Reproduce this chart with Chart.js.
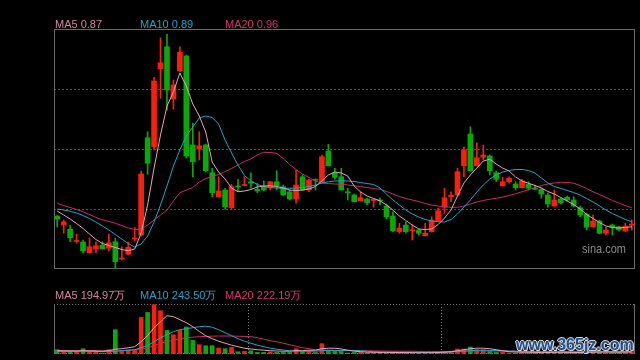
<!DOCTYPE html>
<html><head><meta charset="utf-8">
<script src="https://cdn.jsdelivr.net/npm/chart.js@4/dist/chart.umd.min.js"></script>
<style>
html,body{margin:0;padding:0;background:#000;}
#wrap{position:relative;width:640px;height:360px;overflow:hidden;background:#000;font-family:"Liberation Sans",Arial,sans-serif;}
canvas{position:absolute;left:0;top:0;}
.lg{position:absolute;font-size:11px;line-height:11px;white-space:nowrap;}
#sina{position:absolute;left:582px;top:244px;font-size:11px;line-height:11px;color:#8a8a8a;transform:scaleY(1.12);transform-origin:0 100%;}
#wm{position:absolute;left:516px;top:337px;font-size:16px;line-height:16px;font-weight:bold;color:#1f4f8f;
 text-shadow:1px 0 0 #d8d8d8,-1px 0 0 #d8d8d8,0 1px 0 #d8d8d8,0 -1px 0 #d8d8d8,1px 1px 0 #bbb;}
</style></head><body>
<div id="wrap">
<canvas id="k" width="640" height="360"></canvas>
<canvas id="v" width="640" height="360"></canvas>
<div id="sina">sina.com</div>
<div id="wm">www.365jz.com</div>
</div>
<script>
// ---- data ----
const categories = Array.from({length: 90}, (_, i) => String(i + 1));
const opens = [0.912,0.876,0.859,0.810,0.808,0.765,0.780,0.795,0.783,0.809,
0.740,0.759,0.820,0.836,1.225,1.189,1.501,1.589,1.380,1.493,
1.552,1.196,1.180,1.196,1.085,0.989,1.016,0.945,1.032,1.034,
1.049,1.019,1.029,1.025,1.049,1.029,1.009,0.980,1.069,1.016,
1.059,1.049,1.172,1.085,1.069,1.009,0.996,0.973,0.980,0.974,
0.976,0.952,0.912,0.849,0.876,0.853,0.856,0.833,0.849,0.893,
0.947,0.989,0.996,1.113,1.240,1.113,1.147,1.152,1.085,1.033,
1.049,1.040,1.025,1.039,1.023,1.019,0.996,0.952,0.980,0.987,
0.976,0.945,0.919,0.869,0.892,0.843,0.876,0.869,0.852,0.875];
const closes = [0.900,0.889,0.825,0.814,0.773,0.789,0.793,0.781,0.805,0.729,
0.744,0.787,0.824,1.080,1.123,1.452,1.525,1.416,1.436,1.567,
1.152,1.129,1.193,1.093,1.005,1.012,0.949,1.029,1.028,1.036,
1.043,1.012,1.016,1.049,1.032,0.996,0.980,1.036,1.016,1.056,
1.055,1.149,1.113,1.067,1.016,1.005,0.969,0.985,0.965,0.977,
0.972,0.909,0.853,0.863,0.849,0.856,0.843,0.843,0.896,0.933,
0.985,0.995,1.089,1.176,1.093,1.145,1.156,1.093,1.059,1.049,
1.063,1.025,1.052,1.023,1.019,1.000,0.960,0.976,0.965,0.976,
0.952,0.916,0.867,0.892,0.843,0.856,0.867,0.856,0.872,0.880];
const highs = [0.914,0.896,0.876,0.840,0.816,0.824,0.809,0.809,0.840,0.823,
0.789,0.808,0.867,1.092,1.249,1.467,1.625,1.640,1.456,1.589,
1.556,1.283,1.249,1.200,1.103,1.069,1.023,1.039,1.059,1.069,
1.085,1.043,1.052,1.050,1.093,1.036,1.016,1.096,1.076,1.060,
1.060,1.156,1.199,1.103,1.103,1.023,1.000,1.009,0.984,0.983,
0.984,0.960,0.929,0.883,0.888,0.876,0.860,0.883,0.909,0.944,
1.023,1.009,1.103,1.189,1.269,1.205,1.196,1.156,1.092,1.067,
1.069,1.049,1.059,1.049,1.036,1.024,1.004,1.016,0.984,0.992,
0.989,0.952,0.924,0.916,0.896,0.867,0.880,0.872,0.883,0.896];
const lows = [0.868,0.844,0.809,0.804,0.765,0.764,0.765,0.780,0.773,0.703,
0.736,0.756,0.813,0.832,1.079,1.176,1.383,1.336,1.339,1.488,
1.144,1.069,1.136,1.088,0.989,0.988,0.939,0.939,1.009,1.033,
1.023,1.005,1.012,1.016,1.016,0.994,0.976,0.963,1.014,1.009,
1.016,1.048,1.112,1.059,1.016,0.976,0.968,0.972,0.956,0.947,
0.956,0.900,0.849,0.843,0.844,0.816,0.836,0.832,0.848,0.889,
0.923,0.969,0.992,1.069,1.092,1.112,1.136,1.076,1.049,1.032,
1.043,1.016,1.024,1.016,1.016,0.983,0.947,0.950,0.960,0.972,
0.948,0.909,0.856,0.868,0.840,0.836,0.836,0.852,0.850,0.856];
const ma5 = [0.932,0.916,0.900,0.882,0.862,0.840,0.818,0.802,0.794,0.786,
0.778,0.773,0.780,0.844,0.956,1.104,1.236,1.352,1.408,1.484,
1.432,1.360,1.312,1.248,1.128,1.088,1.060,1.024,1.009,1.012,
1.018,1.028,1.032,1.033,1.030,1.024,1.016,1.014,1.016,1.020,
1.030,1.052,1.076,1.088,1.084,1.072,1.032,1.008,0.992,0.982,
0.973,0.956,0.936,0.912,0.894,0.876,0.860,0.858,0.860,0.878,
0.904,0.936,0.992,1.044,1.076,1.104,1.132,1.139,1.120,1.104,
1.092,1.068,1.052,1.043,1.034,1.024,1.010,1.000,0.986,0.972,
0.958,0.940,0.918,0.902,0.886,0.872,0.866,0.864,0.866,0.869];
const ma10 = [0.940,0.936,0.931,0.924,0.914,0.902,0.888,0.872,0.856,0.838,
0.820,0.802,0.788,0.800,0.832,0.888,0.956,1.032,1.112,1.176,
1.232,1.268,1.304,1.312,1.306,1.280,1.216,1.164,1.116,1.074,
1.052,1.038,1.030,1.026,1.024,1.023,1.023,1.024,1.026,1.030,
1.036,1.044,1.049,1.052,1.053,1.052,1.050,1.046,1.042,1.038,
1.024,1.000,0.976,0.956,0.936,0.920,0.908,0.898,0.892,0.889,
0.888,0.898,0.920,0.948,0.976,1.008,1.036,1.060,1.076,1.088,
1.094,1.098,1.098,1.094,1.084,1.064,1.044,1.030,1.022,1.014,
1.006,0.996,0.982,0.968,0.952,0.936,0.922,0.910,0.898,0.889];
const ma20 = [0.963,0.954,0.946,0.938,0.929,0.918,0.906,0.897,0.890,0.883,
0.874,0.864,0.858,0.860,0.876,0.896,0.916,0.936,0.972,1.005,
1.016,1.026,1.048,1.062,1.070,1.078,1.090,1.102,1.116,1.130,
1.140,1.156,1.167,1.166,1.163,1.142,1.118,1.098,1.080,1.066,
1.052,1.043,1.042,1.040,1.039,1.036,1.033,1.030,1.026,1.022,
1.019,1.010,1.000,0.990,0.982,0.976,0.970,0.962,0.956,0.952,
0.949,0.947,0.947,0.952,0.960,0.968,0.974,0.979,0.983,0.988,
0.994,1.001,1.009,1.017,1.026,1.034,1.040,1.044,1.047,1.046,
1.043,1.034,1.022,1.009,0.998,0.986,0.974,0.964,0.954,0.945];
// volume in 万
const volumes = [430,260,260,260,530,260,200,100,430,2430,
260,430,430,3660,4160,4930,4330,2360,1930,2360,
2700,1360,930,830,830,600,530,660,230,260,
330,160,160,200,160,160,160,530,230,260,
160,1030,330,260,260,100,160,200,100,100,
100,100,200,160,160,100,100,100,100,160,
260,160,500,500,700,430,430,260,160,160,
100,100,150,120,100,130,200,180,120,100,
130,160,220,200,230,160,150,140,200,250];
const volMa5 = [330,320,310,300,330,320,300,280,330,480,
530,630,730,1230,1830,2630,3230,3830,3730,3430,
3130,2730,2260,1830,1530,1280,1080,880,730,580,
500,430,380,330,300,280,280,330,330,380,
380,530,580,580,500,380,280,230,180,170,
160,160,150,150,140,140,130,130,130,150,
180,230,330,430,530,580,580,530,430,330,
230,200,180,170,160,150,150,160,170,160,
150,150,160,180,190,200,190,180,190,195];
const volMa10 = [260,260,270,270,280,270,260,260,270,260,
330,380,430,630,830,1230,1630,1930,2230,2430,
2530,2630,2730,2780,2680,2430,2130,1830,1530,1280,
1080,880,730,580,480,400,330,300,280,280,
280,330,360,360,360,360,360,330,280,230,
200,190,180,180,170,170,160,160,160,170,
180,210,240,280,330,360,370,360,340,310,
290,270,260,250,240,230,230,220,210,210,
200,200,210,220,230,240,240,245,245,243];
const volMa20 = [330,330,330,320,320,320,320,310,310,320,
330,350,380,480,630,830,1080,1230,1380,1530,
1630,1680,1730,1760,1780,1800,1800,1800,1780,1760,
1730,1630,1480,1330,1230,1080,930,780,630,530,
430,400,380,360,340,330,330,320,320,310,
300,290,280,280,270,270,260,260,260,260,
260,270,280,290,300,310,310,310,300,300,
290,290,280,270,260,250,245,240,240,235,
235,230,230,225,225,225,222,222,222,222];
const priceGrid = [0.94, 1.18, 1.42];
const volSeparators = [30, 60];
const priceLegend = [['MA5 0.87','#d4849f',55],['MA10 0.89','#2a9fc2',140],['MA20 0.96','#d5376c',225]];
const volLegend = [['MA5 194.97万','#d4849f',55],['MA10 243.50万','#2a9fc2',140],['MA20 222.19万','#d5376c',225]];

// ---- styles ----
const RED = '#f7200f', GREEN = '#0aa80a';
const C_MA5 = '#e7a3ba', C_MA10 = '#22a4c6', C_MA20 = '#c92d63';
const upFlags = closes.map((c, i) => c >= opens[i]);
const candleColors = upFlags.map(u => u ? RED : GREEN);

const wrap = document.getElementById('wrap');
function addLegend(list, top) {
  list.forEach(([t, c, x]) => {
    const d = document.createElement('div');
    d.className = 'lg'; d.textContent = t;
    d.style.left = x + 'px'; d.style.top = top + 'px'; d.style.color = c;
    wrap.appendChild(d);
  });
}
addLegend(priceLegend, 19);
addLegend(volLegend, 290);

Chart.defaults.animation = false;

const lineDs = (data, color) => ({type: 'line', data, borderColor: color, borderWidth: 1,
  pointRadius: 0, tension: 0, fill: false, order: 0});

const frameK = {
  id: 'frameK',
  beforeDatasetsDraw(chart) {
    const {ctx, chartArea: a, scales: {y}} = chart;
    ctx.save();
    ctx.lineWidth = 1;
    ctx.strokeStyle = '#4e4e4e';
    ctx.setLineDash([2, 2]);
    priceGrid.forEach(p => {
      const py = Math.round(y.getPixelForValue(p)) + 0.5;
      ctx.beginPath(); ctx.moveTo(a.left, py); ctx.lineTo(a.right, py); ctx.stroke();
    });
    ctx.setLineDash([]);
    ctx.strokeStyle = '#6a6a6a';
    ctx.strokeRect(a.left + 0.5, a.top + 0.5, a.right - a.left - 1, a.bottom - a.top - 1);
    ctx.restore();
  }
};

const frameV = {
  id: 'frameV',
  beforeDatasetsDraw(chart) {
    const {ctx, chartArea: a, scales: {x}} = chart;
    ctx.save();
    ctx.lineWidth = 1;
    ctx.strokeStyle = '#7a7a7a';
    ctx.setLineDash([1, 2]);
    [a.top + 0.5, a.bottom - 0.5].forEach(py => {
      ctx.beginPath(); ctx.moveTo(a.left, py); ctx.lineTo(a.right, py); ctx.stroke();
    });
    volSeparators.forEach(i => {
      const px = Math.round((x.getPixelForValue(i - 1) + x.getPixelForValue(i)) / 2) + 0.5;
      ctx.beginPath(); ctx.moveTo(px, a.top); ctx.lineTo(px, a.bottom); ctx.stroke();
    });
    ctx.setLineDash([]);
    ctx.strokeStyle = '#6a6a6a';
    [a.left + 0.5, a.right - 0.5].forEach(px => {
      ctx.beginPath(); ctx.moveTo(px, a.top); ctx.lineTo(px, a.bottom); ctx.stroke();
    });
    ctx.restore();
  }
};

new Chart(document.getElementById('k'), {
  type: 'bar',
  data: {
    labels: categories,
    datasets: [
      lineDs(ma5, C_MA5),
      lineDs(ma10, C_MA10),
      lineDs(ma20, C_MA20),
      {type: 'bar', data: opens.map((o, i) => [o, closes[i]]), backgroundColor: candleColors,
       barThickness: 5, grouped: false, minBarLength: 1, borderWidth: 0, order: 1},
      {type: 'bar', data: lows.map((l, i) => [l, highs[i]]), backgroundColor: candleColors,
       barThickness: 1, grouped: false, borderWidth: 0, order: 2}
    ]
  },
  options: {
    responsive: false, devicePixelRatio: 1,
    layout: {padding: {left: 54, top: 29, right: 5, bottom: 91}},
    plugins: {legend: {display: false}, tooltip: {enabled: false}},
    scales: {
      x: {display: false, offset: true},
      y: {display: false, min: 0.70, max: 1.66}
    }
  },
  plugins: [frameK]
});

new Chart(document.getElementById('v'), {
  type: 'bar',
  data: {
    labels: categories,
    datasets: [
      lineDs(volMa5, C_MA5),
      lineDs(volMa10, C_MA10),
      lineDs(volMa20, C_MA20),
      {type: 'bar', data: volumes, backgroundColor: candleColors, barThickness: 4,
       grouped: false, minBarLength: 1, borderWidth: 0, order: 1}
    ]
  },
  options: {
    responsive: false, devicePixelRatio: 1,
    layout: {padding: {left: 54, top: 304, right: 5, bottom: 6}},
    plugins: {legend: {display: false}, tooltip: {enabled: false}},
    scales: {
      x: {display: false, offset: true},
      y: {display: false, min: 0, max: 5000}
    }
  },
  plugins: [frameV]
});
</script>
</body></html>
